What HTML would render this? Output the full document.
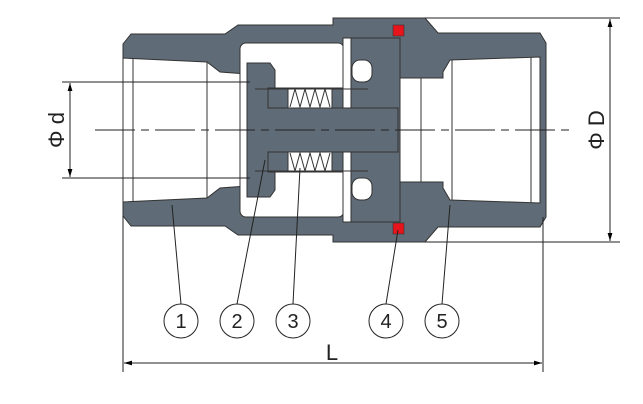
<!DOCTYPE html>
<html><head><style>body{margin:0;background:#fff}svg{display:block}</style></head><body>
<svg width="643" height="404" viewBox="0 0 643 404" xmlns="http://www.w3.org/2000/svg" font-family="Liberation Sans, sans-serif">
<defs>
<marker id="a" viewBox="0 0 10 10" refX="10" refY="5" markerWidth="8" markerHeight="8" orient="auto-start-reverse"><path d="M0,2L10,5L0,8z" fill="#000"/></marker>
</defs>
<g stroke="#333" stroke-width="1">
<path d="M123,44 L131,34 L225,34 L238,25 L333,25 L333,18 L425,18 L438,33 L540,33 L546,43 L546,217 L540,227 L438,227 L425,242 L333,242 L333,235 L238,235 L225,226 L131,226 L123,216 Z" fill="#5f6b76"/>
<path d="M123,58 L207,62 L220,72 L247,74 L247,186 L220,188 L207,198 L123,202 Z" fill="#fff"/>
<line x1="133" y1="59" x2="133" y2="201"/>
<line x1="207" y1="62" x2="207" y2="198"/>
<rect x="240" y="43" width="104" height="174" rx="6" fill="#fff"/>
<path d="M343,38 L400,38 L400,222 L343,222 Z" fill="#5f6b76"/>
<rect x="343" y="38" width="8" height="184" fill="#fff"/>
<rect x="352" y="60" width="20" height="22" rx="8" fill="#fff"/>
<rect x="352" y="178" width="20" height="22" rx="8" fill="#fff"/>
<path d="M400,78 L443,78 L443,72 L450,60 L540,57 L540,203 L450,200 L443,188 L443,182 L400,182 Z" fill="#fff"/>
<line x1="421" y1="78" x2="421" y2="182"/>
<line x1="452" y1="60" x2="452" y2="200"/>
<line x1="531" y1="57" x2="531" y2="203"/>
<path d="M247,63 L270,63 L275,70 L275,108 L398,108 L398,152 L275,152 L275,190 L270,197 L247,197 Z" fill="#5f6b76"/>
<rect x="268" y="88" width="75" height="20" fill="#5f6b76"/>
<rect x="268" y="152" width="75" height="20" fill="#5f6b76"/>
<rect x="288" y="88" width="44" height="20" fill="#fff"/>
<rect x="288" y="152" width="44" height="20" fill="#fff"/>
<line x1="255" y1="89" x2="368" y2="89"/>
<line x1="255" y1="171" x2="368" y2="171"/>
</g>
<g stroke="#333" stroke-width="1" fill="none">
<path d="M290,107 L295,89 L300,107 L305,89 L310,107 L315,89 L320,107 L325,89 L330,107"/>
<path d="M290,153 L295,171 L300,153 L305,171 L310,153 L315,171 L320,153 L325,171 L330,153"/>
</g>
<rect x="393" y="25" width="11" height="11" fill="#e8141c" stroke="#333" stroke-width="0.6"/>
<rect x="393" y="223" width="11" height="11" fill="#e8141c" stroke="#333" stroke-width="0.6"/>
<g stroke="#222" stroke-width="1" fill="none">
<line x1="95" y1="130" x2="575" y2="130" stroke-dasharray="40,6,8,6"/>
<line x1="62" y1="82" x2="250" y2="82"/>
<line x1="62" y1="178" x2="250" y2="178"/>
<line x1="70" y1="83" x2="70" y2="177" marker-start="url(#a)" marker-end="url(#a)"/>
<line x1="425" y1="18" x2="620" y2="18"/>
<line x1="425" y1="242" x2="620" y2="242"/>
<line x1="610" y1="19" x2="610" y2="241" marker-start="url(#a)" marker-end="url(#a)"/>
<line x1="123" y1="216" x2="123" y2="372"/>
<line x1="543" y1="217" x2="543" y2="372"/>
<line x1="124" y1="363" x2="542" y2="363" marker-start="url(#a)" marker-end="url(#a)"/>
<line x1="172" y1="205" x2="181" y2="304"/>
<line x1="265" y1="160" x2="237" y2="304"/>
<line x1="300" y1="168" x2="293" y2="304"/>
<line x1="398" y1="230" x2="386" y2="304"/>
<line x1="450" y1="205" x2="442" y2="304"/>
<circle cx="181" cy="321" r="17"/>
<circle cx="237" cy="321" r="17"/>
<circle cx="293" cy="321" r="17"/>
<circle cx="386" cy="321" r="17"/>
<circle cx="442" cy="321" r="17"/>
</g>
<g font-size="20" fill="#222" text-anchor="middle">
<text x="181" y="328">1</text>
<text x="237" y="328">2</text>
<text x="293" y="328">3</text>
<text x="386" y="328">4</text>
<text x="442" y="328">5</text>
<text x="332" y="360" font-size="22">L</text>
<text transform="translate(64,130) rotate(-90)" font-size="22">Φ d</text>
<text transform="translate(604,130) rotate(-90)" font-size="22">Φ D</text>
</g>
</svg>
</body></html>
